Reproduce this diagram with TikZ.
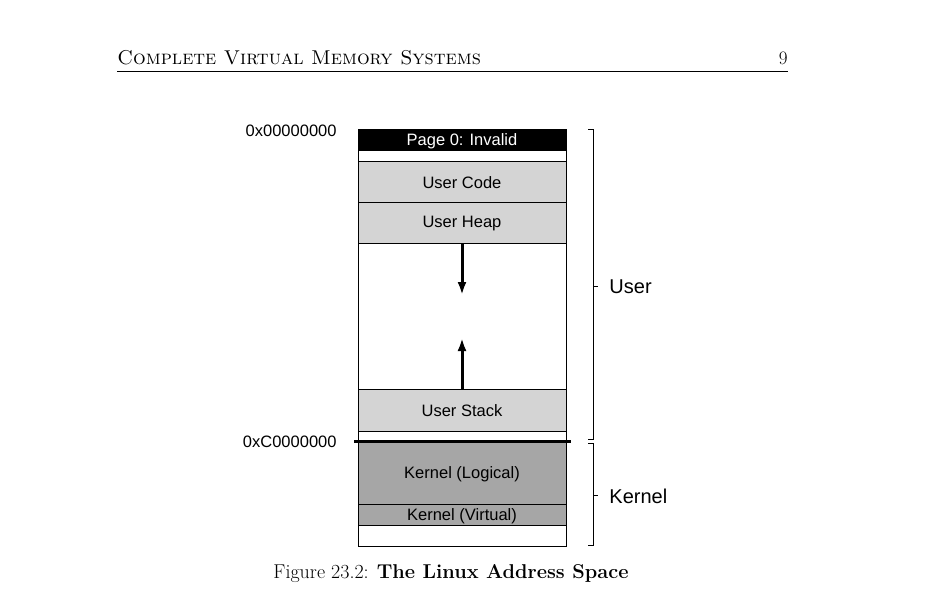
\documentclass[tikz,border=0pt]{standalone}
\usepackage{fontspec}
\setsansfont{Liberation Sans}
\usetikzlibrary{arrows.meta}
\definecolor{usergray}{gray}{0.83}
\definecolor{kerngray}{gray}{0.65}
\tikzset{
  lbl/.style={font=\sffamily\fontsize{16.5}{19}\selectfont, inner sep=0pt},
  side/.style={font=\sffamily\fontsize{20}{24}\selectfont, inner sep=0pt, anchor=west},
  growarrow/.style={line width=3pt, -{Latex[length=13pt,width=9pt]}}
}

\begin{document}
\begin{tikzpicture}[x=1pt,y=-1pt,line width=0.9pt]
			%%%%% START %%%%%
			\useasboundingbox (0,0) rectangle (944,597);
			\def\xl{358}
			\def\xr{566}
			\def\xm{462}
			\def\bx{593}
			\def\tk{5}
			
			% page head
			\node[anchor=base west, inner sep=0pt, font=\fontsize{20}{24}\selectfont\scshape] (head) at (117,64) {Complete Virtual Memory Systems};
			\node[anchor=base east, inner sep=0pt, font=\fontsize{19}{22}\selectfont] (pagenum) at (788,64) {9};
			\draw[line width=0.8pt] (117,71) -- (788,71);
			
			% address space
			\draw[fill=black] (\xl,129) rectangle (\xr,150);
			\node[lbl, text=white] (page0) at (\xm,141) {Page 0: Invalid};
			\draw (\xl,150) rectangle (\xr,161);
			\draw[fill=usergray] (\xl,161) rectangle (\xr,202);
			\node[lbl] (code) at (\xm,183) {User Code};
			\draw[fill=usergray] (\xl,202) rectangle (\xr,243);
			\node[lbl] (heap) at (\xm,224) {User Heap};
			\draw (\xl,243) rectangle (\xr,389);
			\draw[fill=usergray] (\xl,389) rectangle (\xr,431);
			\node[lbl] (stack) at (\xm,411) {User Stack};
			\draw (\xl,431) rectangle (\xr,441);
			\draw[fill=kerngray] (\xl,441) rectangle (\xr,504);
			\node[lbl] (klogical) at (\xm,474) {Kernel (Logical)};
			\draw[fill=kerngray] (\xl,504) rectangle (\xr,525);
			\node[lbl] (kvirtual) at (\xm,516) {Kernel (Virtual)};
			\draw (\xl,525) rectangle (\xr,546);
			\draw[line width=3pt] (354,441) -- (571,441);
			
			% growth arrows
			\coordinate (heapend) at (\xm,243);
			\coordinate (heapgrow) at (\xm,295);
			\coordinate (stackend) at (\xm,389);
			\coordinate (stackgrow) at (\xm,338);
			\draw[growarrow] (heapend) -- (heapgrow);
			\draw[growarrow] (stackend) -- (stackgrow);
			
			% addresses
			\node[lbl, anchor=east] (addrzero) at (337,131) {0x00000000};
			\node[lbl, anchor=east] (addrkern) at (337,442) {0xC0000000};
			
			% brackets
			\draw (\bx-\tk,129) -- (\bx,129) -- (\bx,439) -- (\bx-\tk,439);
			\draw (\bx,286) -- (\bx+\tk,286);
			\node[side] (user) at (609,287) {User};
			\draw (\bx-\tk,443) -- (\bx,443) -- (\bx,545) -- (\bx-\tk,545);
			\draw (\bx,495) -- (\bx+\tk,495);
			\node[side] (kernel) at (609,496) {Kernel};
			
			% caption
			\node[anchor=base, inner sep=0pt, font=\fontsize{20}{24}\selectfont] (caption) at (451,578) {Figure 23.2: \textbf{The Linux Address Space}};
			%%%%% END %%%%%
\end{tikzpicture}
\end{document}
